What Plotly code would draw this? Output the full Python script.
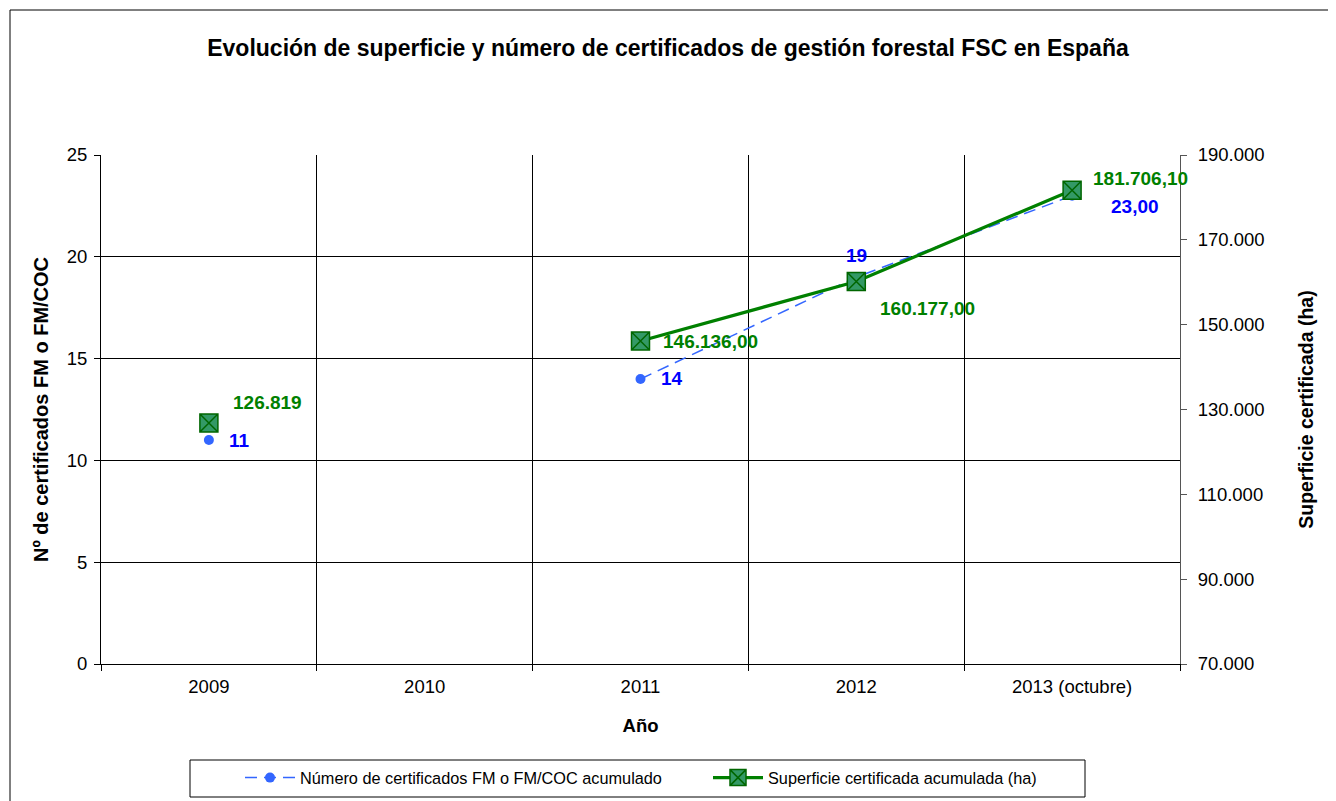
import plotly.graph_objects as go

# ---- data ----
years = ["2009", "2010", "2011", "2012", "2013 (octubre)"]
num_certificados = [11, None, 14, 19, 23]
superficie_ha = [126819, None, 146136, 160177, 181706.1]
num_labels = ["11", None, "14", "19", "23,00"]
sup_labels = ["126.819", None, "146.136,00", "160.177,00", "181.706,10"]
left_ticks = [0, 5, 10, 15, 20, 25]
right_ticks = [70000, 90000, 110000, 130000, 150000, 170000, 190000]
right_ticktext = ["70.000", "90.000", "110.000", "130.000", "150.000", "170.000", "190.000"]

FONT = "Liberation Sans, Arial, sans-serif"
BLUE_LINE = "#3366FF"
BLUE_TXT = "#0000FF"
GREEN = "#008000"
GREEN_FILL = "#339966"

# page body has an 8px margin; figure is sized/offset to compensate
OFF = 8
W, H = 1336 - OFF, 801 - OFF
PL, PT, PW, PH = 101 - OFF, 155 - OFF, 1079, 509

fig = go.Figure()
fig.add_trace(go.Scatter(
    x=years, y=num_certificados, name="Número de certificados FM o FM/COC acumulado",
    mode="lines+markers", connectgaps=False,
    line=dict(color=BLUE_LINE, width=1.5, dash="12px,7px"),
    marker=dict(symbol="circle", size=10, color=BLUE_LINE),
    yaxis="y",
))
fig.add_trace(go.Scatter(
    x=years, y=superficie_ha, name="Superficie certificada acumulada (ha)",
    mode="lines+markers", connectgaps=False,
    line=dict(color=GREEN, width=3.2),
    marker=dict(symbol="square-x", size=18, color=GREEN_FILL,
                line=dict(color="#006600", width=1.5)),
    yaxis="y2",
))

# data labels (offsets in px)
num_shift = [(18, 0, "left"), None, (18, 0, "left"), (0, 22, "center"), (37, -11, "left")]
sup_shift = [(22, 20, "left"), None, (20, 0, "left"), (22, -27, "left"), (19, 12, "left")]
annotations = []
for i, yr in enumerate(years):
    if num_certificados[i] is not None:
        dx, dy, xa = num_shift[i]
        annotations.append(dict(x=i, y=num_certificados[i], xref="x", yref="y",
                                text="<b>%s</b>" % num_labels[i], showarrow=False,
                                xanchor=xa, yanchor="middle", xshift=dx, yshift=dy,
                                font=dict(family=FONT, size=19, color=BLUE_TXT)))
    if superficie_ha[i] is not None:
        dx, dy, xa = sup_shift[i]
        annotations.append(dict(x=i, y=superficie_ha[i], xref="x", yref="y2",
                                text="<b>%s</b>" % sup_labels[i], showarrow=False,
                                xanchor=xa, yanchor="middle", xshift=dx, yshift=dy,
                                font=dict(family=FONT, size=19, color=GREEN)))

def px(xs):
    return (xs - 101) / PW

def py(ys):
    return (664 - ys) / PH

fig.update_layout(
    width=W, height=H,
    margin=dict(l=PL, r=W - PL - PW, t=PT, b=H - PT - PH, autoexpand=False),
    paper_bgcolor="white", plot_bgcolor="white",
    font=dict(family=FONT, size=18.5, color="#000000"),
    title=dict(text="<b>Evolución de superficie y número de certificados de gestión forestal FSC en España</b>",
               x=(668 - OFF) / W, xref="container", xanchor="center", y=1 - (48 - OFF) / H, yanchor="middle",
               font=dict(family=FONT, size=23, color="#000000")),
    xaxis=dict(type="category", tickson="boundaries", range=[-0.5, 4.5],
               showgrid=True, gridcolor="#000000", gridwidth=1,
               showline=True, linecolor="#000000", linewidth=1,
               ticks="outside", ticklen=6, tickcolor="#000000",
               tickfont=dict(size=18.5), ticklabelstandoff=6,
               title=dict(text="<b>Año</b>", font=dict(size=18.5), standoff=22),
               zeroline=False),
    yaxis=dict(range=[0, 25], tickvals=left_ticks,
               showgrid=True, gridcolor="#000000", gridwidth=1,
               showline=True, linecolor="#000000", linewidth=1,
               ticks="outside", ticklen=6, tickcolor="#000000",
               tickfont=dict(size=18.5), ticklabelstandoff=3,
               title=dict(text="<b>Nº de certificados FM o FM/COC</b>", font=dict(size=20), standoff=12),
               zeroline=False),
    yaxis2=dict(range=[70000, 190000], tickvals=right_ticks, ticktext=right_ticktext,
                overlaying="y", side="right", showgrid=False,
                showline=True, linecolor="#555555", linewidth=1,
                ticks="outside", ticklen=6, tickcolor="#555555",
                tickfont=dict(size=18.5), ticklabelstandoff=7,
                title=dict(text="<b>Superficie certificada (ha)</b>", font=dict(size=19.5), standoff=35),
                zeroline=False),
    legend=dict(orientation="h", x=px(240), xanchor="left", y=py(778), yanchor="middle",
                xref="paper", yref="paper", bgcolor="rgba(0,0,0,0)",
                font=dict(family=FONT, size=16.3), itemwidth=50,
                entrywidth=403, entrywidthmode="pixels"),
    annotations=annotations,
    shapes=[
        dict(type="rect", xref="paper", yref="paper",
             x0=px(190), x1=px(1085), y0=py(797), y1=py(760),
             line=dict(color="#000000", width=1), fillcolor="rgba(0,0,0,0)", layer="below"),
        dict(type="rect", xref="paper", yref="paper",
             x0=px(10), x1=px(1331), y0=py(815), y1=py(10),
             line=dict(color="#000000", width=1), fillcolor="rgba(0,0,0,0)", layer="below"),
    ],
)

fig.write_html("out.html")
